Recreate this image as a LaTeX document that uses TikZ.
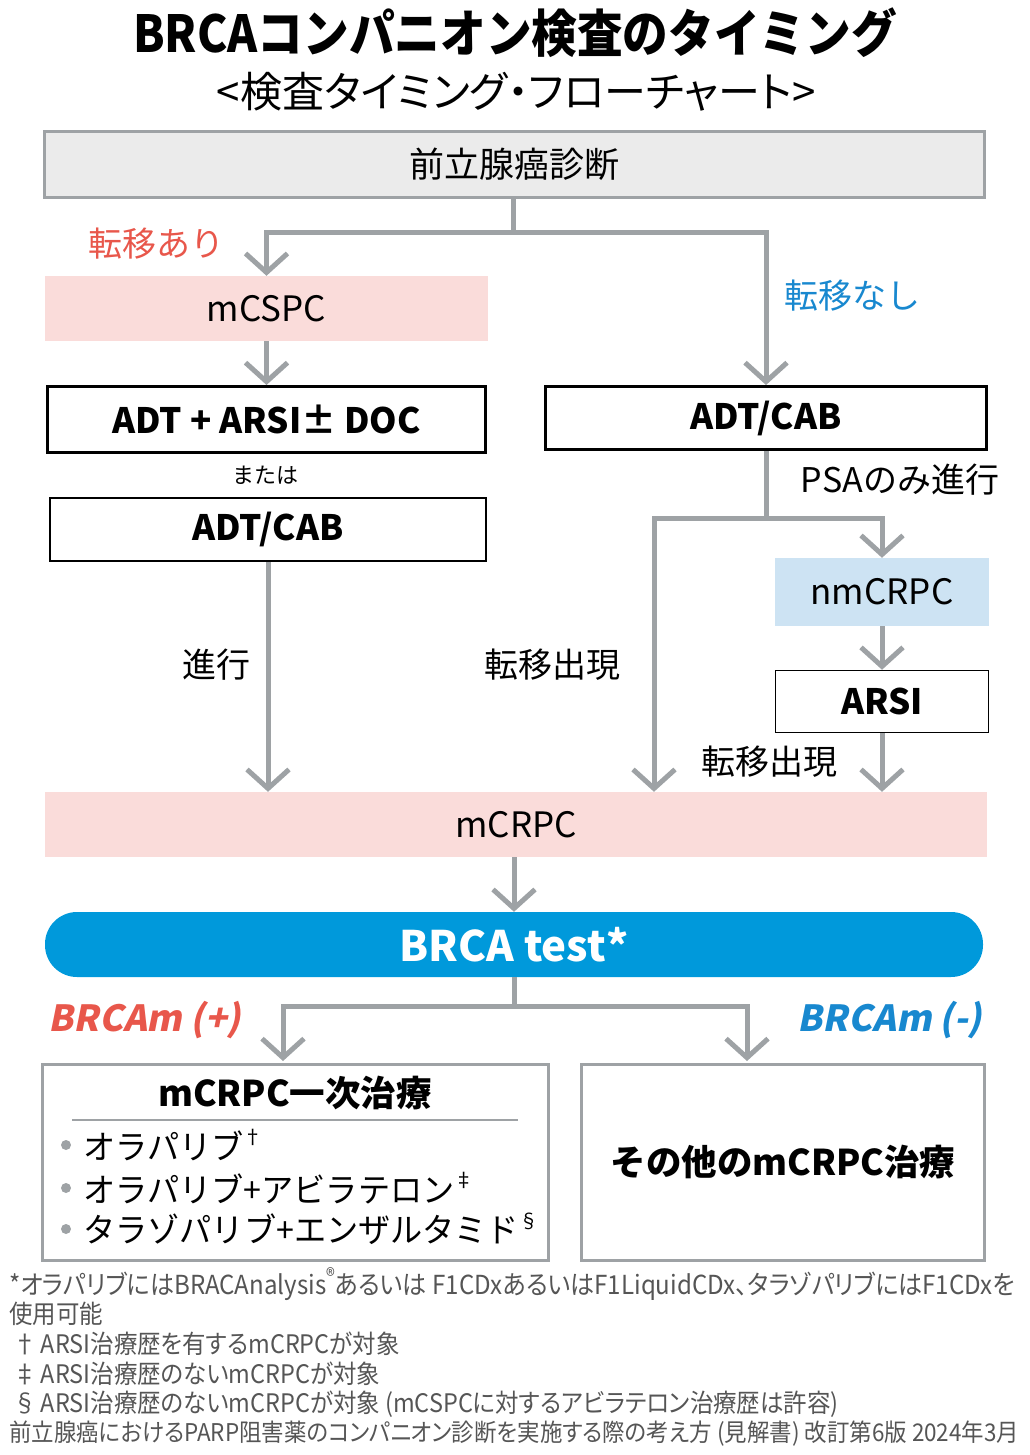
\documentclass[tikz,border=0pt]{standalone}
\usepackage{fontspec}
\setmainfont{Noto Sans CJK JP}
\newfontfamily\slantfont{Noto Sans CJK JP}[FakeSlant=0.2]
\newfontfamily\narrowfont{Noto Sans CJK JP}[FakeStretch=0.92, RawFeature=+palt]
\newfontfamily\headfont{Noto Sans CJK JP}[FakeStretch=0.895]
\newfontfamily\propfont{Noto Sans CJK JP}[RawFeature=+palt]
\newfontfamily\drugfont{Noto Sans CJK JP}[FakeStretch=0.96]
\usetikzlibrary{arrows.meta}
\definecolor{linegray}{HTML}{9EA2A5}
\definecolor{boxgray}{HTML}{EBEBEB}
\definecolor{pinkfill}{HTML}{FADCDA}
\definecolor{bluefill}{HTML}{CDE3F3}
\definecolor{testblue}{HTML}{0099DB}
\definecolor{alertred}{HTML}{E8574B}
\definecolor{infoblue}{HTML}{1888CF}
\definecolor{notegray}{HTML}{555555}
\newcommand{\fsz}[1]{\fontsize{#1}{#1}\selectfont}
\newcommand{\supmark}[1]{\raisebox{0.8ex}{\fsz{20}#1}}
\tikzset{
  link/.style={line width=5pt, linegray},
  flow/.style={link, -{Straight Barb[length=19pt, width=42pt]}},
  stage/.style={inner sep=0pt, font=\fsz{35}},
  therapy/.style={stage, draw=black, line width=3pt, font=\fsz{35}\bfseries},
  branch/.style={inner sep=0pt, font=\fsz{34}},
  drug/.style={inner sep=0pt, anchor=west, font=\drugfont\fsz{33.5}},
  note/.style={inner sep=0pt, anchor=west, text=notegray, font=\narrowfont\fsz{25.5}}
}
\begin{document}
\begin{tikzpicture}[x=1pt, y=-1pt]
\useasboundingbox (0,0) rectangle (1029,1455);
\node[inner sep=0pt, font=\headfont\fsz{51}\bfseries] (title) at (515,33) {BRCAコンパニオン検査のタイミング};
\node[inner sep=0pt, font=\propfont\fsz{42}] (subtitle) at (516,92) {<検査タイミング・フローチャート>};
% flow boxes
\node[stage, fill=boxgray, draw=linegray, line width=3pt, minimum width=940pt, minimum height=66pt] (diag) at (514.5,164.5) {前立腺癌診断};
\node[stage, fill=pinkfill, minimum width=443pt, minimum height=65pt] (mcspc) at (266.5,308.5) {mCSPC};
\node[therapy, minimum width=438pt, minimum height=66pt] (adtarsi) at (266.5,419.5) {ADT + ARSI± DOC};
\node[therapy, line width=2.5pt, minimum width=436pt, minimum height=63pt] (adtcabL) at (268,529.5) {ADT/CAB};
\node[therapy, minimum width=441pt, minimum height=63pt] (adtcabR) at (766,418) {ADT/CAB};
\node[stage, fill=bluefill, minimum width=214pt, minimum height=68pt] (nmcrpc) at (882,592) {nmCRPC};
\node[therapy, line width=1.5pt, minimum width=213pt, minimum height=62pt] (arsi) at (882,701.5) {ARSI};
\node[stage, fill=pinkfill, minimum width=942pt, minimum height=65pt] (mcrpc) at (516,824.5) {mCRPC};
\node[stage, fill=testblue, rounded corners=32pt, minimum width=938pt, minimum height=65pt, text=white, font=\fsz{42}\bfseries] (brca) at (514,944.5) {BRCA test*};
\node[draw=linegray, line width=3pt, minimum width=506pt, minimum height=196pt] (first) at (295.5,1162) {};
\node[stage, draw=linegray, line width=3pt, minimum width=403pt, minimum height=196pt, font=\fsz{35.5}\bfseries] (other) at (783,1162) {その他のmCRPC治療};
% branch labels
\node[branch, text=alertred] (metyes) at (156,244) {転移あり};
\node[branch, text=infoblue] (metno) at (852,296) {転移なし};
\node[inner sep=0pt, font=\fsz{22}] (or) at (265,475) {または};
\node[branch] (prog) at (216,665) {進行};
\node[branch] (metL) at (552,665) {転移出現};
\node[branch] (psa) at (900,480) {PSAのみ進行};
\node[branch] (metR) at (769,762) {転移出現};
\node[inner sep=0pt, text=alertred, font=\slantfont\fsz{36}\bfseries] (pos) at (145,1020) {BRCAm (+)};
\node[inner sep=0pt, text=infoblue, font=\slantfont\fsz{36}\bfseries] (neg) at (890,1020) {BRCAm (-)};
% connectors
\coordinate (split1) at (513,233);
\coordinate (split2) at (766,518);
\coordinate (split3) at (514,1006);
\coordinate (tipL) at (283,1061);
\coordinate (tipR) at (747,1061);
\draw[link] (diag.south -| split1) -- (split1);
\draw[flow] (split1) -| (mcspc.north);
\draw[flow] (split1) -| (adtcabR.north);
\draw[flow] (mcspc) -- (adtarsi);
\draw[flow] (adtcabL.south) -- (adtcabL.south |- mcrpc.north);
\draw[link] (adtcabR.south) -- (split2);
\draw[flow] (split2) -| (654,0 |- mcrpc.north);
\draw[flow] (split2) -| (nmcrpc.north);
\draw[flow] (nmcrpc) -- (arsi);
\draw[flow] (arsi.south) -- (arsi.south |- mcrpc.north);
\draw[flow] (mcrpc.south -| brca.north) -- (brca.north);
\draw[link] (brca.south) -- (split3);
\draw[flow] (split3) -| (tipL);
\draw[flow] (split3) -| (tipR);
% first-line list
\node[inner sep=0pt, font=\fsz{35.5}\bfseries] (firsthead) at (295,1093) {mCRPC一次治療};
\draw[linegray, line width=1.5pt] (72,1120) -- (518,1120);
\foreach \y in {1145,1188,1229} \fill[linegray] (66,\y) circle (5pt);
\node[drug] (drug1) at (83,1145) {オラパリブ\supmark{†}};
\node[drug] (drug2) at (83,1188) {オラパリブ+アビラテロン\supmark{‡}};
\node[drug] (drug3) at (83,1229) {タラゾパリブ+エンザルタミド\supmark{§}};
% footnotes
\node[note, font=\narrowfont\fsz{26.2}] (fn1) at (9,1284) {*オラパリブにはBRACAnalysis\supmark{®}あるいは F1CDxあるいはF1LiquidCDx、タラゾパリブにはF1CDxを};
\node[note] (fn2) at (9,1314) {使用可能};
\node[note] (fn3) at (13,1344) {†\,ARSI治療歴を有するmCRPCが対象};
\node[note] (fn4) at (13,1374) {‡\,ARSI治療歴のないmCRPCが対象};
\node[note] (fn5) at (13,1404) {§\,ARSI治療歴のないmCRPCが対象 (mCSPCに対するアビラテロン治療歴は許容)};
\node[note, font=\narrowfont\fsz{24.4}] (fn6) at (9,1434) {前立腺癌におけるPARP阻害薬のコンパニオン診断を実施する際の考え方 (見解書) 改訂第6版 2024年3月};
\end{tikzpicture}
\end{document}
